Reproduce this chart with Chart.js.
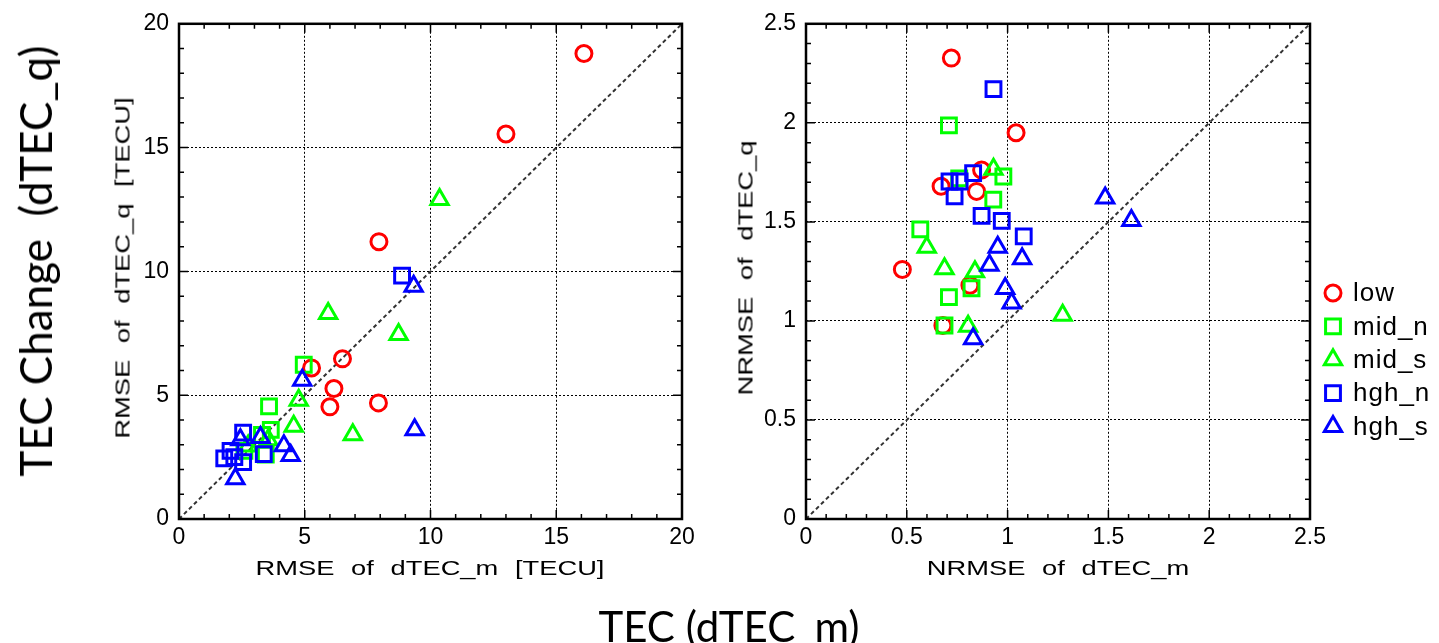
<!DOCTYPE html>
<html>
<head>
<meta charset="utf-8">
<script src="https://cdn.jsdelivr.net/npm/chart.js@4.4.0/dist/chart.umd.min.js"></script>
<style>
body { margin: 0; background: #fff; width: 1439px; height: 643px; overflow: hidden; position: relative; }
canvas { position: absolute; top: 0; }
#rmse-chart { left: 0; }
#nrmse-chart { left: 700px; }
.lbl { position: absolute; white-space: pre; color: #000; line-height: 1; }
.axis-title { font-family: "Liberation Sans", Arial, sans-serif; font-size: 21px; word-spacing: 7px; }
.big { font-family: Lato, "Open Sans", sans-serif; }
</style>
</head>
<body>
<canvas id="rmse-chart" width="700" height="643" style="width:700px;height:643px"></canvas>
<canvas id="nrmse-chart" width="739" height="643" style="width:739px;height:643px"></canvas>

<div class="lbl axis-title" style="left:430px;top:567px;transform:translate(-50%,-50%) scaleX(1.3)">RMSE of dTEC_m [TECU]</div>
<div class="lbl axis-title" style="left:122px;top:268px;transform:translate(-50%,-50%) rotate(-90deg) scaleX(1.3)">RMSE of dTEC_q [TECU]</div>
<div class="lbl axis-title" style="left:1058px;top:567px;transform:translate(-50%,-50%) scaleX(1.3)">NRMSE of dTEC_m</div>
<div class="lbl axis-title" style="left:745px;top:268px;transform:translate(-50%,-50%) rotate(-90deg) scaleX(1.3)">NRMSE of dTEC_q</div>

<div class="lbl big" style="left:35px;top:261px;font-size:44px;transform:translate(-50%,-50%) rotate(-90deg)">TEC Change  (dTEC_q)</div>
<div class="lbl big" style="left:729px;top:626px;font-size:42px;transform:translate(-50%,-50%)">TEC (dTEC_m)</div>

<script>
/* TEC change scatter: model (dTEC_m) vs observed (dTEC_q) errors per latitude group */

const GROUPS = ["low", "mid_n", "mid_s", "hgh_n", "hgh_s"];
const GROUP_COLORS = ["#ff0000", "#00ff00", "#00ff00", "#0000ff", "#0000ff"];
const GROUP_SHAPES = ["circle", "rect", "triangle", "rect", "triangle"];
const MARKER_RADIUS = { circle: 8, rect: 10.5, triangle: 10 };

// RMSE [TECU], each point is [dTEC_m, dTEC_q]
const rmseLow  = [[16.1, 18.8], [13.0, 15.55], [7.95, 11.2], [6.5, 6.47], [5.27, 6.1], [6.16, 5.27], [6.0, 4.53], [7.93, 4.69]];
const rmseMidN = [[4.96, 6.23], [3.58, 4.55], [3.65, 3.6], [3.3, 3.4], [3.45, 2.6], [2.6, 2.75]];
const rmseMidS = [[10.36, 12.9], [5.93, 8.3], [8.73, 7.45], [6.91, 3.4], [4.76, 4.8], [4.56, 3.75], [3.55, 3.2], [2.75, 2.95]];
const rmseHghN = [[8.87, 9.83], [2.55, 3.49], [1.8, 2.45], [2.05, 2.75], [2.55, 2.3], [3.37, 2.62], [2.2, 2.5]];
const rmseHghS = [[9.33, 9.4], [9.37, 3.6], [4.9, 5.6], [4.17, 2.96], [4.44, 2.56], [2.24, 1.63], [3.24, 3.29], [2.44, 3.2]];

// NRMSE, each point is [dTEC_m, dTEC_q]
const nrmseLow  = [[0.721, 2.327], [1.042, 1.95], [0.871, 1.762], [0.67, 1.68], [0.846, 1.654], [0.478, 1.26], [0.813, 1.18], [0.679, 0.977]];
const nrmseMidN = [[0.709, 1.987], [0.979, 1.729], [0.929, 1.612], [0.567, 1.462], [0.709, 1.12], [0.821, 1.165], [0.687, 0.977], [0.76, 1.72]];
const nrmseMidS = [[0.93, 1.766], [0.599, 1.372], [0.687, 1.264], [0.838, 1.248], [0.804, 0.973], [1.273, 1.028]];
const nrmseHghN = [[0.93, 2.17], [0.829, 1.746], [0.762, 1.704], [0.712, 1.704], [0.737, 1.629], [0.871, 1.53], [0.971, 1.505], [1.08, 1.427]];
const nrmseHghS = [[0.951, 1.372], [0.91, 1.281], [1.072, 1.314], [0.988, 1.164], [1.02, 1.09], [0.829, 0.91], [1.484, 1.62], [1.614, 1.507]];

const rmseTicks = [0, 5, 10, 15, 20];
const nrmseTicks = [0, 0.5, 1, 1.5, 2, 2.5];

/* ---------- Plugins ---------- */

// box round the plot plus inward minor/major tick marks on all four sides
const frameTicks = {
    id: "frameTicks",
    afterDraw(chart, args, opts) {
        const { ctx, chartArea: a, scales: { x, y } } = chart;
        const isMajor = v => Math.abs(v / opts.major - Math.round(v / opts.major)) < 1e-6;
        ctx.save();
        ctx.strokeStyle = "#000";
        ctx.lineWidth = 1.5;
        ctx.beginPath();
        const nx = Math.round((x.max - x.min) / opts.minor);
        for (let i = 0; i <= nx; i++) {
            const v = x.min + i * opts.minor;
            const px = x.getPixelForValue(v);
            const len = isMajor(v) ? 9 : 5;
            ctx.moveTo(px, a.bottom); ctx.lineTo(px, a.bottom - len);
            ctx.moveTo(px, a.top); ctx.lineTo(px, a.top + len);
        }
        const ny = Math.round((y.max - y.min) / opts.minor);
        for (let i = 0; i <= ny; i++) {
            const v = y.min + i * opts.minor;
            const py = y.getPixelForValue(v);
            const len = isMajor(v) ? 9 : 5;
            ctx.moveTo(a.left, py); ctx.lineTo(a.left + len, py);
            ctx.moveTo(a.right, py); ctx.lineTo(a.right - len, py);
        }
        ctx.stroke();
        ctx.lineWidth = 2.5;
        ctx.strokeRect(a.left, a.top, a.right - a.left, a.bottom - a.top);
        ctx.restore();
    }
};

// legend stacked to the right of the plot
const sideLegend = {
    id: "sideLegend",
    afterDraw(chart, args, opts) {
        if (!opts.show) return;
        const ctx = chart.ctx;
        ctx.save();
        chart.data.datasets.forEach(ds => {
            const i = GROUPS.indexOf(ds.label);
            if (i < 0) return;
            const y = opts.top + i * opts.gap;
            ctx.strokeStyle = ds.pointBorderColor;
            ctx.fillStyle = "rgba(0,0,0,0)";
            ctx.lineWidth = 3;
            Chart.helpers.drawPoint(ctx, {
                pointStyle: ds.pointStyle, radius: ds.pointRadius, rotation: 0, borderWidth: 3
            }, opts.left, y);
            ctx.fillStyle = "#000";
            ctx.font = opts.font;
            if ("letterSpacing" in ctx) ctx.letterSpacing = "1px";
            ctx.textAlign = "left";
            ctx.textBaseline = "middle";
            ctx.fillText(ds.label, opts.left + 20, y + 1);
        });
        ctx.restore();
    }
};

/* ---------- Chart building ---------- */

function buildDatasets(groups, maxVal) {
    const sets = groups.map((pts, i) => ({
        type: "scatter",
        label: GROUPS[i],
        data: pts.map(p => ({ x: p[0], y: p[1] })),
        pointStyle: GROUP_SHAPES[i],
        pointRadius: MARKER_RADIUS[GROUP_SHAPES[i]],
        pointBorderWidth: 3,
        pointBorderColor: GROUP_COLORS[i],
        pointBackgroundColor: "rgba(0,0,0,0)",
        showLine: false,
        order: GROUPS.length - i,
    }));
    // 1:1 reference line
    sets.push({
        type: "line",
        label: "one-to-one",
        data: [{ x: 0, y: 0 }, { x: maxVal, y: maxVal }],
        borderColor: "#333",
        borderWidth: 2,
        borderDash: [4, 3],
        pointRadius: 0,
        order: 10,
    });
    return sets;
}

function axis(ticks, fitSize, horizontal, fmt) {
    return {
        type: "linear",
        min: ticks[0],
        max: ticks[ticks.length - 1],
        afterBuildTicks: s => { s.ticks = ticks.map(v => ({ value: v })); },
        afterFit: s => {
            if (horizontal) s.height = fitSize; else s.width = fitSize;
        },
        ticks: {
            callback: fmt,
            autoSkip: false,
            maxRotation: 0,
            padding: horizontal ? 5 : 10,
            color: "#000",
            font: { family: "'Liberation Sans', Arial, sans-serif", size: 23 },
        },
        grid: { color: "#000", lineWidth: 1, drawTicks: false },
        border: { display: false, dash: [2, 2] },
        title: { display: false },
    };
}

function makeChart(id, groups, ticks, yWidth, padRight, minor, major, legendOpts) {
    const maxVal = ticks[ticks.length - 1];
    return new Chart(document.getElementById(id), {
        type: "scatter",
        data: { datasets: buildDatasets(groups, maxVal) },
        options: {
            responsive: false,
            animation: false,
            events: [],
            layout: { padding: { left: 0, top: 18, right: padRight, bottom: 0 } },
            plugins: {
                legend: { display: false },
                tooltip: { enabled: false },
                frameTicks: { minor, major },
                sideLegend: legendOpts,
            },
            scales: {
                x: axis(ticks, 124, true, v => String(v)),
                y: axis(ticks, yWidth, false, v => String(v)),
            },
        },
        plugins: [frameTicks, sideLegend],
    });
}

makeChart("rmse-chart",
    [rmseLow, rmseMidN, rmseMidS, rmseHghN, rmseHghS],
    rmseTicks, 179, 18, 1, 5, { show: false });

makeChart("nrmse-chart",
    [nrmseLow, nrmseMidN, nrmseMidS, nrmseHghN, nrmseHghS],
    nrmseTicks, 106, 129, 0.1, 0.5,
    { show: true, left: 633, top: 293, gap: 33.4, font: "26px 'Liberation Sans', Arial, sans-serif" });
</script>
</body>
</html>
